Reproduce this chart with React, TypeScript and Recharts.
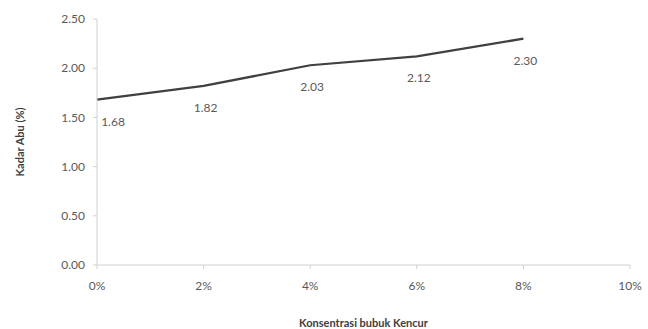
import { LineChart, Line, XAxis, YAxis, Label, LabelList } from "recharts";

// konsentrasi kencur (%) dan kadar abu (%)
const konsentrasi = [0, 2, 4, 6, 8];
const kadarAbu = [1.68, 1.82, 2.03, 2.12, 2.3];
const xTicks = [0, 2, 4, 6, 8, 10];
const yTicks = [0, 0.5, 1, 1.5, 2, 2.5];

const data = konsentrasi.map((k, i) => ({ k, abu: kadarAbu[i] }));

const FONT = "Lato, 'Open Sans', sans-serif";
const AXIS = "#d0d0d0";
const TEXT = "#595959";

const renderLabel = (props: any) => {
    const { x, y, value, index } = props;
    const dx = index === 0 ? 16 : 2;
    return (
        <text
            x={x + dx}
            y={y + 26}
            textAnchor="middle"
            fontSize={12}
            fontFamily={FONT}
            fill={TEXT}
        >
            {Number(value).toFixed(2)}
        </text>
    );
};

export default function App() {
    return (
        <div style={{ position: "absolute", left: 0, top: 0, background: "#fff" }}>
            <LineChart
                width={648}
                height={329}
                data={data}
                margin={{ top: 19, right: 18, bottom: 0, left: 0 }}
            >
                <XAxis
                    dataKey="k"
                    type="number"
                    domain={[0, 10]}
                    ticks={xTicks}
                    tickFormatter={(v) => `${v}%`}
                    stroke={AXIS}
                    tickSize={4}
                    height={64}
                    tick={{ fill: TEXT, fontSize: 12, fontFamily: FONT, dy: 10 }}
                >
                    <Label
                        value="Konsentrasi bubuk Kencur"
                        position="insideBottom"
                        offset={2}
                        style={{ fill: "#404040", fontSize: 11, fontWeight: "bold", fontFamily: FONT }}
                    />
                </XAxis>
                <YAxis
                    type="number"
                    domain={[0, 2.5]}
                    ticks={yTicks}
                    tickFormatter={(v) => v.toFixed(2)}
                    stroke={AXIS}
                    tickSize={4}
                    width={97}
                    tick={{ fill: TEXT, fontSize: 12, fontFamily: FONT, dx: -6 }}
                >
                    <Label
                        value="Kadar Abu (%)"
                        angle={-90}
                        position="insideLeft"
                        offset={20}
                        style={{ textAnchor: "middle", fill: "#404040", fontSize: 11, fontWeight: "bold", fontFamily: FONT }}
                    />
                </YAxis>
                <Line
                    dataKey="abu"
                    stroke="#404040"
                    strokeWidth={2.25}
                    dot={false}
                    isAnimationActive={false}
                >
                    <LabelList dataKey="abu" content={renderLabel} />
                </Line>
            </LineChart>
        </div>
    );
}
